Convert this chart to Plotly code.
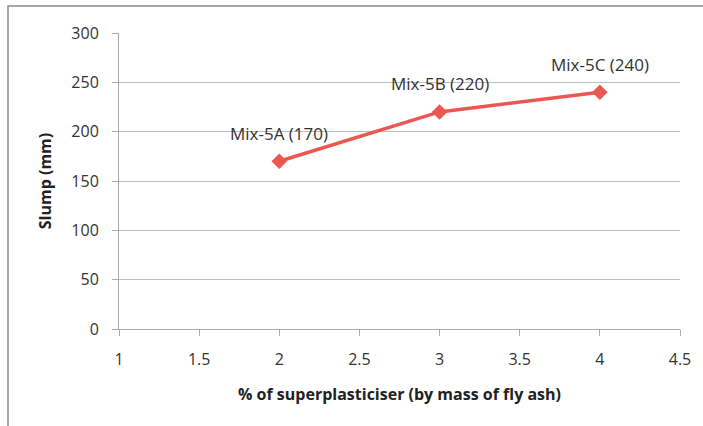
import plotly.graph_objects as go

x_vals = [2, 3, 4]
slump = [170, 220, 240]
labels = ["Mix-5A (170)", "Mix-5B (220)", "Mix-5C (240)"]
x_ticks = [1, 1.5, 2, 2.5, 3, 3.5, 4, 4.5]
x_tick_text = ["1", "1.5", "2", "2.5", "3", "3.5", "4", "4.5"]
y_ticks = [0, 50, 100, 150, 200, 250, 300]

W, H = 703, 426
L, R, T, B = 119, 23, 33, 97
pw, ph = W - L - R, H - T - B

fig = go.Figure()
fig.add_trace(go.Scatter(
    x=x_vals, y=slump, mode="lines+markers",
    line=dict(color="#EC5752", width=3.5),
    marker=dict(symbol="diamond", size=12, color="#EC5752"),
    showlegend=False, hoverinfo="skip"))

for xv, yv, t in zip(x_vals, slump, labels):
    fig.add_annotation(x=xv, y=yv, text=t, showarrow=False, yshift=28,
                       font=dict(family="Open Sans", size=17, color="#333333"))

fig.add_shape(type="rect", xref="paper", yref="paper",
              x0=(8 - L) / pw, x1=(W + 10 - L) / pw,
              y0=(H - B - (H + 10)) / ph, y1=(H - B - 6) / ph,
              line=dict(color="#8a8a8a", width=1.5), fillcolor="rgba(0,0,0,0)", layer="below")

fig.update_layout(
    width=W, height=H, margin=dict(l=L, r=R, t=T, b=B),
    paper_bgcolor="white", plot_bgcolor="white",
    font=dict(family="Open Sans", size=16, color="#333333"),
    xaxis=dict(range=[1, 4.5], tickvals=x_ticks, ticktext=x_tick_text,
               showgrid=False, zeroline=False, showline=True, linecolor="#aaaaaa", linewidth=1,
               ticks="outside", ticklen=6, tickcolor="#aaaaaa", ticklabelstandoff=10,
               title=dict(text="<b>% of superplasticiser (by mass of fly ash)</b>",
                          font=dict(size=16, color="#222222"), standoff=19),
               tickfont=dict(size=16)),
    yaxis=dict(range=[0, 300], tickvals=y_ticks, showgrid=True, gridcolor="#bdbdbd", gridwidth=1,
               zeroline=False, showline=True, linecolor="#aaaaaa", linewidth=1,
               ticks="outside", ticklen=6, tickcolor="#aaaaaa", ticklabelstandoff=10,
               title=dict(text="<b>Slump (mm)</b>", font=dict(size=16, color="#222222"), standoff=15),
               tickfont=dict(size=16)),
)
fig.write_html("out.html")
